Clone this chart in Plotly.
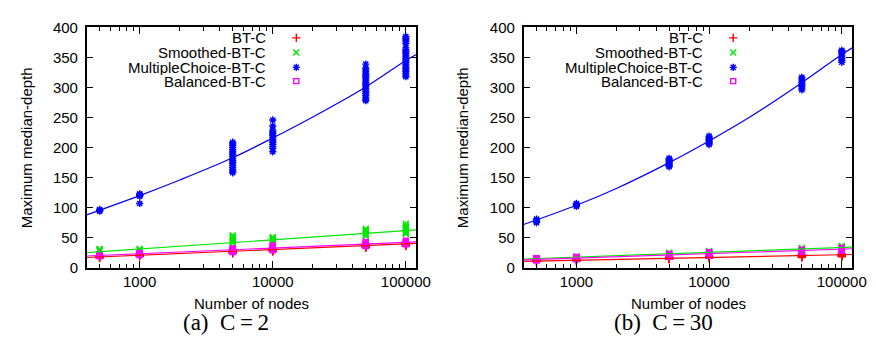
import math
import plotly.graph_objects as go

# ---------------- data ----------------
N = [500, 1000, 5000, 10000, 50000, 100000]
series_names = ["BT-C", "Smoothed-BT-C", "MultipleChoice-BT-C", "Balanced-BT-C"]

# C = 2 (left panel): one list of observed values per number of nodes
bt_c2 = [[16, 17, 18, 19, 20], [19, 20, 21, 22, 23], [24, 25, 26, 27, 28, 29],
         [27, 28, 29, 30, 31, 32], [33, 34, 35, 36, 37, 38, 39, 40],
         [36, 37, 38, 39, 40, 41, 42]]
smooth_c2 = [[28, 29, 30, 31], [29, 30, 31], [41, 43, 45, 47, 49, 51, 54],
             [42, 44, 46, 48, 50, 51], [53, 55, 57, 59, 61, 63, 65],
             [56, 58, 60, 62, 64, 66, 68, 70, 73]]
multi_c2 = [[94, 95, 96, 97], [107, 119, 120, 121, 122, 123],
            [158, 161, 164, 167, 170, 173, 176, 179, 182, 185, 188, 191, 194, 197, 200, 203, 206, 209],
            [193, 199, 202, 205, 208, 211, 214, 217, 220, 223, 226, 229, 236, 246],
            [278, 281, 284, 287, 290, 293, 296, 299, 302, 305, 308, 311, 314, 317, 320, 323, 326, 329, 332, 339],
            [318, 321, 324, 327, 330, 333, 336, 339, 342, 345, 348, 351, 354, 357, 360, 363, 366,
             373, 376, 379, 382, 385]]
bal_c2 = [[19, 20, 21, 22, 23], [21, 22, 23, 24, 25], [26, 27, 28, 29, 30, 31, 32],
          [29, 31, 33, 35, 37], [36, 38, 40, 42, 43], [39, 41, 43, 45]]

# C = 30 (right panel)
bt_c30 = [[10, 11, 12, 13], [11, 12, 13, 14], [14, 15, 16, 17, 18], [16, 17, 18, 19],
          [17, 18, 19, 20, 21, 22], [18, 19, 20, 21, 22, 23]]
smooth_c30 = [[14, 15, 16], [16, 17, 18, 19], [21, 22, 23, 24, 25], [23, 24, 25, 26, 27, 28],
              [29, 30, 31, 32, 33], [31, 32, 33, 34, 35, 36]]
multi_c30 = [[75, 77, 79, 81], [102, 104, 106, 107], [168, 170, 172, 174, 176, 178, 180, 182],
             [205, 207, 209, 211, 213, 215, 217, 219], [296, 299, 302, 305, 308, 311, 314, 317],
             [342, 345, 348, 351, 354, 357, 360, 362]]
bal_c30 = [[12, 13, 14, 15, 16], [14, 15, 16, 17, 18], [18, 19, 20, 21, 22, 23],
           [20, 21, 22, 23, 24, 25, 26], [26, 27, 28, 29, 30], [28, 29, 30, 31, 32, 33]]

# fitted curves at these node counts
fit_x = [400, 1000, 2000, 5000, 10000, 20000, 50000, 100000, 120000]
fit_bt_c2 = [17, 20.8, 23.6, 27.5, 30.3, 33.2, 37, 39.9, 40.6]
fit_smooth_c2 = [25, 31, 35.5, 42, 47, 51.5, 57.5, 62, 63]
fit_multi_c2 = [88, 120, 146, 183, 216, 251, 301, 345, 355]
fit_bal_c2 = [19.5, 23.3, 26.1, 29.9, 32.8, 35.6, 39.4, 42.2, 43]
fit_bt_c30 = [10.5, 12.4, 13.8, 15.6, 17, 18.4, 20.3, 21.6, 22]
fit_smooth_c30 = [14.5, 17.7, 20.1, 23.3, 25.7, 28.1, 31.3, 33.7, 34.3]
fit_multi_c30 = [72, 104, 132, 175, 211, 250, 308, 355, 366]
fit_bal_c30 = [13, 16, 18.3, 21.2, 23.5, 25.7, 28.7, 31, 31.6]

x_range = [400, 120000]
y_ticks = [0, 50, 100, 150, 200, 250, 300, 350, 400]
x_ticks = [1000, 10000, 100000]
x_ticktext = ["1000", "10000", "100000"]
captions = ["(a)  C\u2009=\u20092", "(b)  C\u2009=\u200930"]

# ---------------- styles ----------------
colors = ["#ff0000", "#00e800", "#0000ff", "#ff00ff"]
symbols = ["cross-thin-open", "x-thin-open", "asterisk-open", "square-open"]
msize = [6, 6, 6, 5]
FONT = "Liberation Sans, Arial, sans-serif"

W, H = 876, 338
# plot areas in pixels
panels = [dict(x0=80, x1=415), dict(x0=524, x1=858)]
py0, py1 = 11, 264


def expand(vals):
    xs, ys = [], []
    for n, vv in zip(N, vals):
        for v in vv:
            xs.append(n)
            ys.append(v)
    return xs, ys


fig = go.Figure()
panel_data = [
    ([bt_c2, smooth_c2, multi_c2, bal_c2], [fit_bt_c2, fit_smooth_c2, fit_multi_c2, fit_bal_c2]),
    ([bt_c30, smooth_c30, multi_c30, bal_c30], [fit_bt_c30, fit_smooth_c30, fit_multi_c30, fit_bal_c30]),
]

for p, (pts, fits) in enumerate(panel_data):
    xa = "x" if p == 0 else "x2"
    ya = "y" if p == 0 else "y2"
    for i in range(4):
        xs, ys = expand(pts[i])
        fig.add_trace(go.Scatter(
            x=xs, y=ys, mode="markers", xaxis=xa, yaxis=ya, showlegend=False,
            marker=dict(symbol=symbols[i], size=msize[i], color=colors[i],
                        line=dict(color=colors[i], width=1.4)),
            hoverinfo="skip"))
    for i in range(4):
        fig.add_trace(go.Scatter(
            x=fit_x, y=fits[i], mode="lines", xaxis=xa, yaxis=ya, showlegend=False,
            line=dict(color=colors[i], width=1.2, shape="spline" if i == 2 else "linear"),
            hoverinfo="skip"))

# legend samples on overlay axes (0..1 both ways)
leg_rows_px = [22, 37.5, 53, 67.5]
leg_marker_px = [293, 737]
leg_text_px = [263, 707]
for p in range(2):
    xa = "x3" if p == 0 else "x4"
    ya = "y3" if p == 0 else "y4"
    x0, x1 = panels[p]["x0"], panels[p]["x1"]
    for i in range(4):
        fx = (leg_marker_px[p] - x0) / (x1 - x0)
        fy = (py1 - leg_rows_px[i]) / (py1 - py0)
        fig.add_trace(go.Scatter(
            x=[fx], y=[fy], mode="markers", xaxis=xa, yaxis=ya, showlegend=False,
            marker=dict(symbol=symbols[i], size=msize[i], color=colors[i],
                        line=dict(color=colors[i], width=1.4)),
            hoverinfo="skip"))

ydom = [(H - py1) / H, (H - py0) / H]
minor_vals = [v * m for v in (100, 1000, 10000) for m in range(2, 10) if 400 <= v * m <= 120000]


def xaxis(p):
    return dict(
        type="log", range=[math.log10(x_range[0]), math.log10(x_range[1])],
        domain=[panels[p]["x0"] / W, panels[p]["x1"] / W],
        anchor="y" if p == 0 else "y2",
        tickmode="array", tickvals=x_ticks, ticktext=x_ticktext,
        ticks="inside", ticklen=7, tickwidth=1, tickcolor="black",
        minor=dict(tickmode="array", tickvals=minor_vals, ticks="inside", ticklen=4,
                   tickwidth=1, tickcolor="black", showgrid=False),
        showline=True, linecolor="black", linewidth=1.5, mirror="allticks",
        showgrid=False, zeroline=False,
        tickfont=dict(family=FONT, size=15, color="black"))


def yaxis(p):
    return dict(
        range=[0, 400], domain=ydom, anchor="x" if p == 0 else "x2",
        tickmode="array", tickvals=y_ticks,
        ticks="inside", ticklen=7, tickwidth=1, tickcolor="black",
        showline=True, linecolor="black", linewidth=1.5, mirror="allticks",
        showgrid=False, zeroline=False, ticklabelstandoff=4,
        tickfont=dict(family=FONT, size=15, color="black"))


def overlay_x(p, base, anchor):
    return dict(overlaying=base, range=[0, 1], visible=False, anchor=anchor,
                domain=[panels[p]["x0"] / W, panels[p]["x1"] / W], fixedrange=True)


def overlay_y(p, base, anchor):
    return dict(overlaying=base, range=[0, 1], visible=False, anchor=anchor,
                domain=ydom, fixedrange=True)


annotations = []
for p in range(2):
    x0, x1 = panels[p]["x0"], panels[p]["x1"]
    for i in range(4):
        annotations.append(dict(
            x=leg_text_px[p] / W, y=(H - leg_rows_px[i]) / H, xref="paper", yref="paper",
            text=series_names[i], showarrow=False, xanchor="right", yanchor="middle",
            height=15, borderpad=0, valign="middle",
            font=dict(family=FONT, size=15, color="black")))
    # axis titles
    ytx = [19, 462][p]
    annotations.append(dict(
        x=ytx / W, y=(H - 137.5) / H, xref="paper", yref="paper", text="Maximum median-depth",
        textangle=-90, showarrow=False, xanchor="center", yanchor="middle",
        font=dict(family=FONT, size=15, color="black")))
    xtx = [247, 692][p]
    annotations.append(dict(
        x=xtx / W, y=(H - 302) / H, xref="paper", yref="paper", text="Number of nodes",
        showarrow=False, xanchor="center", yanchor="middle",
        font=dict(family=FONT, size=15, color="black")))
    ctx = [222, 666][p]
    annotations.append(dict(
        x=ctx / W, y=(H - 322) / H, xref="paper", yref="paper", text=captions[p],
        showarrow=False, xanchor="center", yanchor="middle",
        font=dict(family="Liberation Serif, Times New Roman, serif", size=23, color="black")))

fig.update_layout(
    width=W, height=H, margin=dict(l=0, r=0, t=0, b=0),
    paper_bgcolor="white", plot_bgcolor="white", showlegend=False,
    xaxis=xaxis(0), yaxis=yaxis(0), xaxis2=xaxis(1), yaxis2=yaxis(1),
    xaxis3=overlay_x(0, "x", "y3"), yaxis3=overlay_y(0, "y", "x3"),
    xaxis4=overlay_x(1, "x2", "y4"), yaxis4=overlay_y(1, "y2", "x4"),
    annotations=annotations,
)

fig.write_html("out.html")
